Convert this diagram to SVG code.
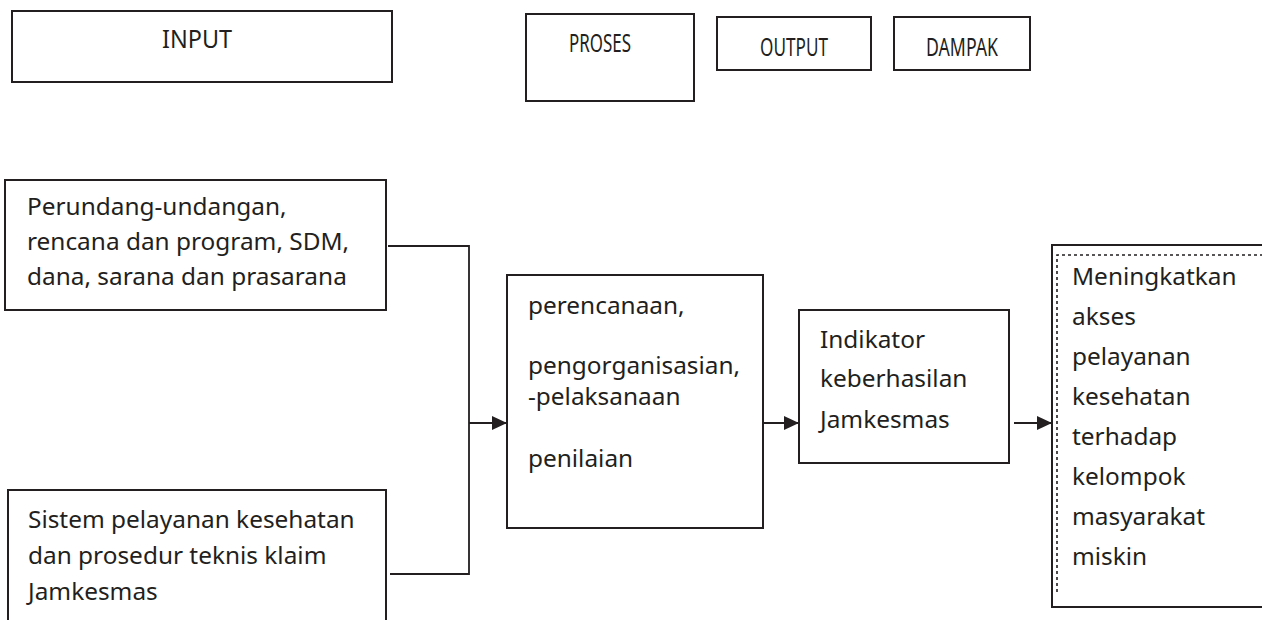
<svg xmlns="http://www.w3.org/2000/svg" width="1262" height="620" viewBox="0 0 1262 620">
  <style>
    .box { fill: #ffffff; stroke: #231f20; stroke-width: 2; }
    .t { font-family: "Noto Sans", "Open Sans", "Liberation Sans", sans-serif; font-size: 24.4px; fill: #231f20; }
    .h { font-family: "Noto Sans", "Open Sans", "Liberation Sans", sans-serif; font-size: 25px; fill: #231f20; }
    .ln { fill: none; stroke: #231f20; stroke-width: 1.8; }
    .dash { fill: none; stroke: #231f20; stroke-width: 1.6; stroke-dasharray: 3 3; }
  </style>
  <defs>
    <marker id="arrow" markerUnits="userSpaceOnUse" markerWidth="15" markerHeight="14" refX="15" refY="7" orient="auto">
      <path d="M0,0 L15,7 L0,14 Z" fill="#231f20"/>
    </marker>
  </defs>
  <rect width="1262" height="620" fill="#ffffff"/>

  <g id="header-input">
    <rect class="box" x="12" y="11" width="380" height="71"/>
    <text class="h" x="162" y="48" textLength="70" lengthAdjust="spacingAndGlyphs">INPUT</text>
  </g>
  <g id="header-proses">
    <rect class="box" x="526" y="14" width="168" height="87"/>
    <text class="h" x="569" y="52" textLength="62" lengthAdjust="spacingAndGlyphs">PROSES</text>
  </g>
  <g id="header-output">
    <rect class="box" x="717" y="17" width="154" height="53"/>
    <text class="h" x="760" y="56" textLength="68" lengthAdjust="spacingAndGlyphs">OUTPUT</text>
  </g>
  <g id="header-dampak">
    <rect class="box" x="894" y="17" width="136" height="53"/>
    <text class="h" x="926" y="56" textLength="72" lengthAdjust="spacingAndGlyphs">DAMPAK</text>
  </g>

  <g id="connectors">
    <polyline class="ln" points="388,246 469,246 469,574 390,574"/>
    <line class="ln" x1="469" y1="423" x2="507" y2="423" marker-end="url(#arrow)"/>
    <line class="ln" x1="763" y1="423" x2="799" y2="423" marker-end="url(#arrow)"/>
    <line class="ln" x1="1014" y1="423" x2="1052" y2="423" marker-end="url(#arrow)"/>
  </g>

  <g id="input-1">
    <rect class="box" x="5" y="180" width="381" height="130"/>
    <text class="t" x="27" y="215">Perundang-undangan,</text>
    <text class="t" x="27" y="250">rencana dan program, SDM,</text>
    <text class="t" x="27" y="285">dana, sarana dan prasarana</text>
  </g>

  <g id="input-2">
    <rect class="box" x="8" y="490" width="378" height="140"/>
    <text class="t" x="28" y="528">Sistem pelayanan kesehatan</text>
    <text class="t" x="28" y="564">dan prosedur teknis klaim</text>
    <text class="t" x="28" y="600">Jamkesmas</text>
  </g>

  <g id="proses">
    <rect class="box" x="507" y="275" width="256" height="253"/>
    <text class="t" x="528" y="314">perencanaan,</text>
    <text class="t" x="528" y="374">pengorganisasian,</text>
    <text class="t" x="528" y="405">-pelaksanaan</text>
    <text class="t" x="528" y="467">penilaian</text>
  </g>

  <g id="output">
    <rect class="box" x="799" y="310" width="210" height="153"/>
    <text class="t" x="820" y="348">Indikator</text>
    <text class="t" x="820" y="387">keberhasilan</text>
    <text class="t" x="820" y="428">Jamkesmas</text>
  </g>

  <g id="dampak">
    <rect class="box" x="1052" y="245" width="230" height="362"/>
    <polyline class="dash" points="1275,255 1057,255 1057,593"/>
    <text class="t" x="1072" y="285">Meningkatkan</text>
    <text class="t" x="1072" y="325">akses</text>
    <text class="t" x="1072" y="365">pelayanan</text>
    <text class="t" x="1072" y="405">kesehatan</text>
    <text class="t" x="1072" y="445">terhadap</text>
    <text class="t" x="1072" y="485">kelompok</text>
    <text class="t" x="1072" y="525">masyarakat</text>
    <text class="t" x="1072" y="565">miskin</text>
  </g>
</svg>
